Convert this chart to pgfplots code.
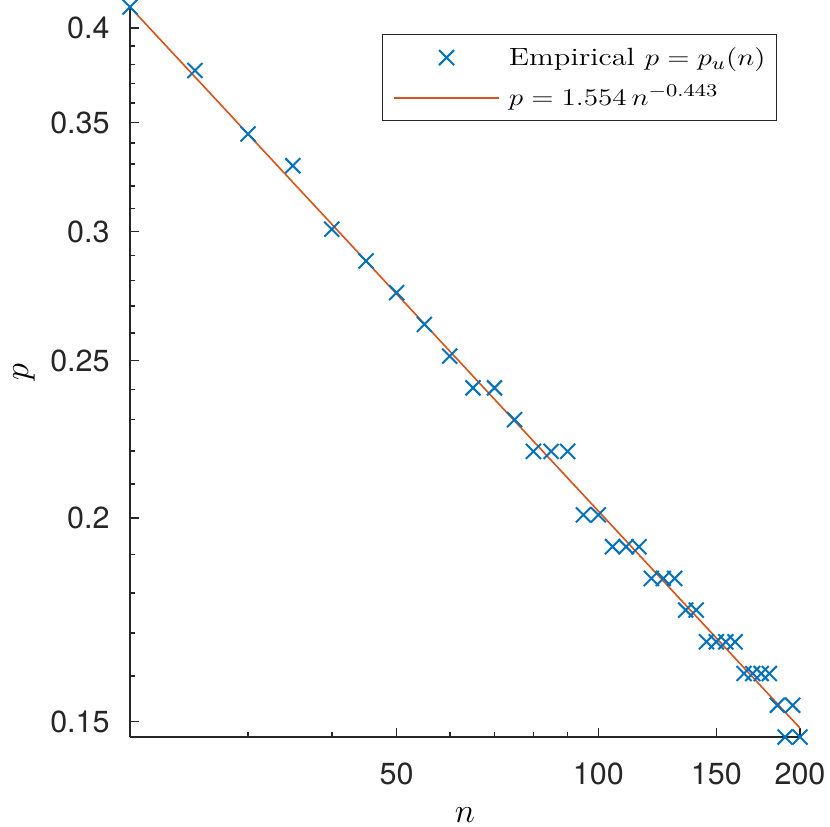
\documentclass[border=0pt]{standalone}
\usepackage{fontspec}
\usepackage{graphicx}
\usepackage{pgfplots}
\usepackage{pgfplotstable}
\pgfplotsset{compat=1.18}
\newfontfamily\heros{TeX Gyre Heros}
\definecolor{mblue}{rgb}{0,0.447,0.741}
\definecolor{morange}{rgb}{0.85,0.325,0.098}
\definecolor{axgray}{rgb}{0.15,0.15,0.15}
\pgfplotsset{
  marklegend/.style={legend image code/.code={\draw[mark repeat=2,mark phase=2,##1] plot coordinates {(0bp,0bp) (26.25bp,0bp) (52.5bp,0bp)};}},
  linelegend/.style={legend image code/.code={\path[draw=morange,line width=0.9bp] (0bp,0bp) -- (52.5bp,0bp);}},
}

\pgfplotstableread{
n p
20 0.4122
25 0.37680
30 0.34444
35 0.32932
40 0.30104
45 0.28782
50 0.27518
55 0.26310
60 0.25155
65 0.24050
70 0.24050
75 0.22994
80 0.21984
85 0.21984
90 0.21984
95 0.20096
100 0.20096
105 0.19214
110 0.19214
115 0.19214
120 0.18370
125 0.18370
130 0.18370
135 0.17564
140 0.17564
145 0.16793
150 0.16793
155 0.16793
160 0.16793
165 0.16056
170 0.16056
175 0.16056
180 0.16056
185 0.15351
190 0.14677
195 0.15351
200 0.14677
}\empirical

\begin{document}
\begin{tikzpicture}
\begin{loglogaxis}[
  name=ax,
  scale only axis,
  width=335bp, height=365bp,
  xmin=20, xmax=200, ymin=0.14677, ymax=0.4122,
  axis lines*=left,
  axis line style={axgray, line width=0.8bp, -},
  xtick={50,100,150,200}, xticklabels={50,100,150,200},
  minor xtick={30,40,60,70,80,90},
  ytick={0.15,0.2,0.25,0.3,0.35,0.4},
  yticklabels={0.15,0.2,0.25,0.3,0.35,0.4},
  minor ytick={0.16,0.17,0.18,0.19,0.21,0.22,0.23,0.24,0.26,0.27,0.28,0.29,0.31,0.32,0.33,0.34,0.36,0.37,0.38,0.39},
  tick align=inside,
  major tick length=4.5bp, minor tick length=2.4bp,
  every tick/.style={axgray, line width=0.8bp},
  tick label style={font=\heros\fontsize{15.3}{18}\selectfont, text=axgray, inner sep=0pt},
  xticklabel style={yshift=-12.5bp},
  yticklabel style={xshift=-10bp},
  every axis x label/.style={at={(axis description cs:0.5,0)}, anchor=center, yshift=-39bp, inner sep=0pt},
  every axis y label/.style={at={(axis description cs:0,0.5)}, anchor=center, xshift=-53bp, rotate=90, inner sep=0pt},
  label style={font=\fontsize{17}{20}\selectfont},
  xlabel={$n$}, ylabel={$p$},
  legend cell align=left,
  legend style={at={(axis description cs:1,1)}, anchor=north east,
    xshift=-11.5bp, yshift=-13.5bp, draw=axgray, line width=0.6bp, fill=white,
    inner xsep=5.5bp, inner ysep=3.5bp, row sep=4bp, column sep=4.5bp,
    nodes={inner sep=0pt, text height=12bp, text depth=4bp},
    font=\fontsize{12.5}{15}\selectfont},
]
\addplot[only marks, mark=x, mark size=5.3bp, color=mblue, mark options={line width=1bp}, marklegend]
  table[x=n, y=p] {\empirical};
\addlegendentry{\scalebox{1.22}[1]{Empirical $p=p_u(n)$}}
\addplot[color=morange, line width=0.8bp, no marks, linelegend]
  coordinates {(20,0.41219) (200,0.148627)};
\addlegendentry{\scalebox{1.22}[1]{$p=1.554\,n^{-0.443}$}}
\end{loglogaxis}
\pgfresetboundingbox
\path[use as bounding box] ([xshift=-65bp,yshift=-45bp]ax.south west) rectangle ([xshift=15bp,yshift=3.5bp]ax.north east);
\end{tikzpicture}
\end{document}
